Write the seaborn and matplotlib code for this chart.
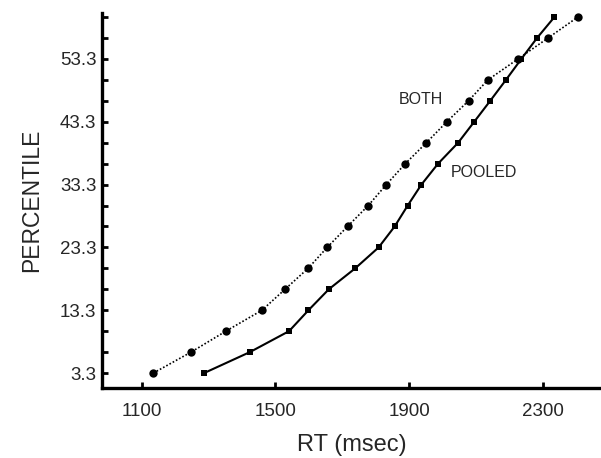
import matplotlib
matplotlib.use("Agg")
import matplotlib.pyplot as plt
import seaborn as sns
import numpy as np
import pandas as pd

# Percentile levels (steps of 1/30)
percentiles = [3.33, 6.67, 10.0, 13.33, 16.67, 20.0, 23.33, 26.67, 30.0,
               33.33, 36.67, 40.0, 43.33, 46.67, 50.0, 53.33, 56.67, 60.0]
both_rt = [1135, 1248, 1352, 1460, 1529, 1598, 1655, 1716, 1778,
           1832, 1889, 1952, 2013, 2078, 2136, 2226, 2316, 2405]
pooled_rt = [1287, 1424, 1541, 1599, 1660, 1739, 1809, 1857, 1896,
             1937, 1987, 2047, 2095, 2143, 2190, 2236, 2283, 2335]
x_ticks = [1100, 1500, 1900, 2300]
y_tick_labels = ["3.3", "13.3", "23.3", "33.3", "43.3", "53.3"]
y_tick_values = [3.33, 13.33, 23.33, 33.33, 43.33, 53.33]

sns.set_style("white")
plt.rcParams['font.family'] = ['Liberation Sans', 'DejaVu Sans']

fig = plt.figure(figsize=(6.01, 4.58), dpi=100)
ax = fig.add_axes([0.1697, 0.1528, 0.83, 0.8188])

df_both = pd.DataFrame({"rt": both_rt, "pct": percentiles})
df_pool = pd.DataFrame({"rt": pooled_rt, "pct": percentiles})

sns.lineplot(data=df_both, x="rt", y="pct", ax=ax, color="black",
             linestyle=(0, (1, 1.2)), linewidth=1.2, marker="o",
             markersize=6, markeredgewidth=0, sort=False)
sns.lineplot(data=df_pool, x="rt", y="pct", ax=ax, color="black",
             linestyle="-", linewidth=1.5, marker="s",
             markersize=4.5, markeredgewidth=0, sort=False)

ax.set_xlim(981, 2474)
ax.set_ylim(0.94, 60.65)

ax.set_xticks(x_ticks)
ax.set_xticklabels([str(v) for v in x_ticks], fontsize=13.5)
ax.set_yticks(y_tick_values)
ax.set_yticklabels(y_tick_labels, fontsize=13.5)
ax.set_yticks(percentiles, minor=True)

ax.tick_params(axis="x", which="major", bottom=True, direction="in",
               length=4, width=2, pad=11, color="black")
ax.tick_params(axis="y", which="both", left=True, direction="in",
               length=4, width=2, pad=4, color="black")

for s in ["top", "right"]:
    ax.spines[s].set_visible(False)
for s in ["left", "bottom"]:
    ax.spines[s].set_linewidth(2.4)
    ax.spines[s].set_color("black")

ax.set_xlabel("RT (msec)", fontsize=17, labelpad=10)
ax.set_ylabel("PERCENTILE", fontsize=16.5, labelpad=12)

ax.text(1934, 46.8, "BOTH", fontsize=11.5, ha="center", va="center")
ax.text(2125, 35.3, "POOLED", fontsize=11.5, ha="center", va="center")

fig.savefig("out.png", dpi=100)
